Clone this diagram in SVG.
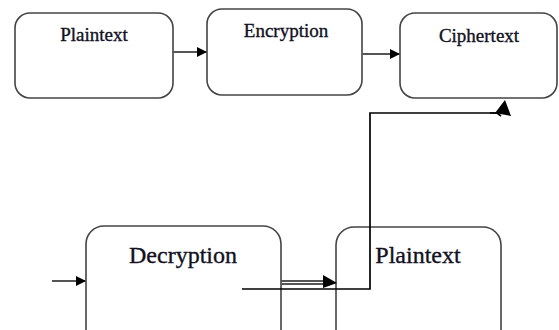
<svg xmlns="http://www.w3.org/2000/svg" width="559" height="330" viewBox="0 0 559 330">
<style>
.box{fill:#fff;stroke:#444;stroke-width:1.6}
.t{font-family:"Liberation Serif","Times New Roman",serif;fill:#111122;stroke:#111122;stroke-width:0.35;text-anchor:middle}
.s{font-size:19px}
.b{font-size:24px}
.ln{stroke:#555;stroke-width:2;fill:none}
.blk{stroke:#000;stroke-width:1.7;fill:none}
</style>
<defs>
<marker id="ah" markerWidth="10" markerHeight="10" refX="9" refY="5" orient="auto" markerUnits="userSpaceOnUse">
<path d="M0,0 L10,5 L0,10 Z" fill="#000"/>
</marker>
</defs>
<rect width="559" height="330" fill="#fff"/>
<g id="n-plaintext-top">
<rect class="box" x="15" y="13" width="158" height="85" rx="15"/>
<text class="t s" x="94" y="41">Plaintext</text>
</g>
<g id="n-encryption">
<rect class="box" x="207" y="9" width="155" height="86" rx="15"/>
<text class="t s" x="286" y="37">Encryption</text>
</g>
<g id="n-ciphertext">
<rect class="box" x="400" y="13" width="157" height="85" rx="15"/>
<text class="t s" x="479" y="42">Ciphertext</text>
</g>
<g id="n-decryption">
<rect class="box" x="86" y="226" width="195" height="130" rx="18"/>
<text class="t b" x="183" y="263">Decryption</text>
</g>
<g id="n-plaintext-bottom">
<rect class="box" x="336" y="227" width="165" height="130" rx="18"/>
<text class="t b" x="418" y="263">Plaintext</text>
</g>
<g id="connectors">
<line class="ln" x1="173" y1="52" x2="206" y2="52" marker-end="url(#ah)"/>
<line class="ln" x1="362" y1="54" x2="399" y2="54" marker-end="url(#ah)"/>
<line class="ln" x1="52" y1="281" x2="85" y2="281" marker-end="url(#ah)"/>
<line class="ln" x1="281" y1="281" x2="325" y2="281" stroke-width="1.3"/>
<line class="ln" x1="281" y1="284" x2="325" y2="284" stroke-width="1.3"/>
<polygon points="323,275 337,283 323,288" fill="#000"/>
<polyline class="blk" points="242,289 370,289 370,113 497,113"/>
<polyline class="blk" points="490,113 497,113 501,116" stroke-width="1.2"/>
<polygon points="495,113 505,100 511,116" fill="#000"/>
</g>
</svg>
